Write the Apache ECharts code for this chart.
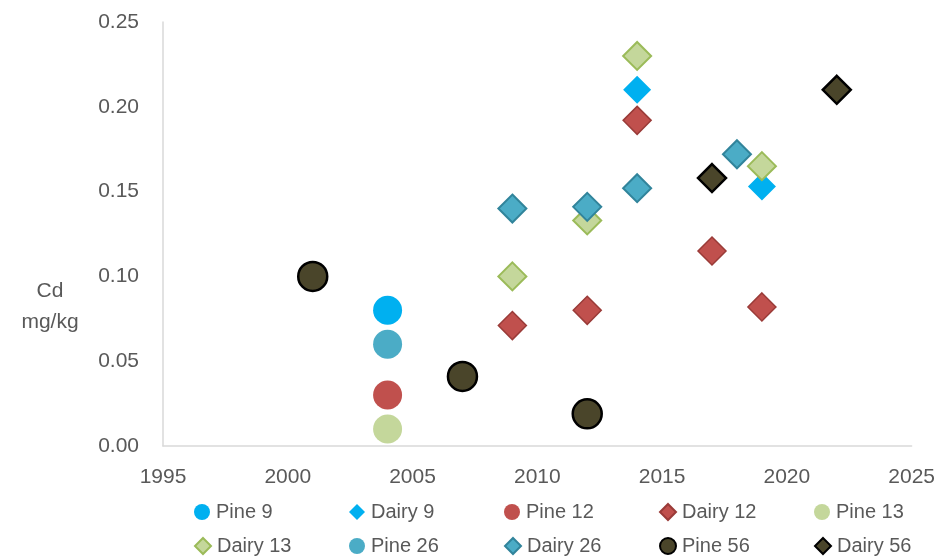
<!DOCTYPE html>
<html>
<head>
<meta charset="utf-8">
<script src="https://cdn.jsdelivr.net/npm/echarts@6/dist/echarts.min.js"></script>
<style>
  html, body { margin: 0; padding: 0; background: #fff; }
  #chart { width: 938px; height: 556px; }
</style>
</head>
<body>
<div id="chart"></div>
<script>
// Cadmium (mg/kg) by sampling year for each site
const seriesNames = ['Pine 9', 'Dairy 9', 'Pine 12', 'Dairy 12', 'Pine 13',
                     'Dairy 13', 'Pine 26', 'Dairy 26', 'Pine 56', 'Dairy 56'];

const pine9Years   = [2004];
const pine9Cd      = [0.080];
const dairy9Years  = [2014, 2019];
const dairy9Cd     = [0.210, 0.153];
const pine12Years  = [2004];
const pine12Cd     = [0.030];
const dairy12Years = [2009, 2012, 2014, 2017, 2019];
const dairy12Cd    = [0.071, 0.080, 0.192, 0.115, 0.082];
const pine13Years  = [2004];
const pine13Cd     = [0.010];
const dairy13Years = [2009, 2012, 2014, 2019];
const dairy13Cd    = [0.100, 0.133, 0.230, 0.165];
const pine26Years  = [2004];
const pine26Cd     = [0.060];
const dairy26Years = [2009, 2012, 2014, 2018];
const dairy26Cd    = [0.140, 0.141, 0.152, 0.172];
const pine56Years  = [2001, 2007, 2012];
const pine56Cd     = [0.100, 0.041, 0.019];
const dairy56Years = [2017, 2022];
const dairy56Cd    = [0.158, 0.210];

const xTicks = [1995, 2000, 2005, 2010, 2015, 2020, 2025];
const yTicks = [0.00, 0.05, 0.10, 0.15, 0.20, 0.25];

const pairs = (xs, ys) => xs.map((x, i) => [x, ys[i]]);

// marker styling per series: [symbol, fill, border, borderWidth]
const styles = {
  'Pine 9':   ['circle',  '#00B0F0', '#00B0F0', 0],
  'Dairy 9':  ['diamond', '#00B0F0', '#00B0F0', 0],
  'Pine 12':  ['circle',  '#C0504D', '#C0504D', 0],
  'Dairy 12': ['diamond', '#C0504D', '#9A3B38', 1.5],
  'Pine 13':  ['circle',  '#C4D79B', '#C4D79B', 0],
  'Dairy 13': ['diamond', '#C4D79B', '#9BBB59', 2],
  'Pine 26':  ['circle',  '#4BACC6', '#4BACC6', 0],
  'Dairy 26': ['diamond', '#4BACC6', '#31849B', 2],
  'Pine 56':  ['circle',  '#4A452A', '#000000', 2.5],
  'Dairy 56': ['diamond', '#4A452A', '#000000', 2.5]
};

const dataByName = {
  'Pine 9':   pairs(pine9Years, pine9Cd),
  'Dairy 9':  pairs(dairy9Years, dairy9Cd),
  'Pine 12':  pairs(pine12Years, pine12Cd),
  'Dairy 12': pairs(dairy12Years, dairy12Cd),
  'Pine 13':  pairs(pine13Years, pine13Cd),
  'Dairy 13': pairs(dairy13Years, dairy13Cd),
  'Pine 26':  pairs(pine26Years, pine26Cd),
  'Dairy 26': pairs(dairy26Years, dairy26Cd),
  'Pine 56':  pairs(pine56Years, pine56Cd),
  'Dairy 56': pairs(dairy56Years, dairy56Cd)
};

const FONT = 'Liberation Sans';
const TEXT = '#595959';

const series = seriesNames.map(name => {
  const [symbol, fill, border, bw] = styles[name];
  return {
    name,
    type: 'scatter',
    symbol,
    symbolSize: symbol === 'circle' ? 29 : 28,
    itemStyle: { color: fill, borderColor: border, borderWidth: bw, opacity: 1 },
    data: dataByName[name]
  };
});

// one legend entry per slot, laid out in two rows of five
const legends = seriesNames.map((name, i) => ({
  data: [name],
  left: 189 + (i % 5) * 155,
  top: i < 5 ? 497 : 531,
  itemWidth: 16,
  itemHeight: 16,
  itemGap: 6,
  textStyle: { color: TEXT, fontFamily: FONT, fontSize: 20, padding: [0, 0, 0, 1] },
  selectedMode: false
}));

const chart = echarts.init(document.getElementById('chart'), null, { renderer: 'canvas' });
chart.setOption({
  animation: false,
  backgroundColor: '#ffffff',
  grid: { left: 163, right: 25, top: 22, bottom: 110, containLabel: false },
  xAxis: {
    type: 'value',
    min: xTicks[0],
    max: xTicks[xTicks.length - 1],
    interval: 5,
    axisLine: { show: true, lineStyle: { color: '#D9D9D9', width: 1.5 } },
    axisTick: { show: false },
    splitLine: { show: false },
    axisLabel: {
      color: TEXT, fontFamily: FONT, fontSize: 21, margin: 21,
      formatter: v => String(v)
    }
  },
  yAxis: {
    type: 'value',
    min: yTicks[0],
    max: yTicks[yTicks.length - 1],
    interval: 0.05,
    axisLine: { show: true, lineStyle: { color: '#D9D9D9', width: 1.5 } },
    axisTick: { show: false },
    splitLine: { show: false },
    axisLabel: {
      color: TEXT, fontFamily: FONT, fontSize: 21, margin: 24,
      formatter: v => v.toFixed(2)
    }
  },
  legend: legends,
  graphic: [{
    type: 'text',
    x: 50,
    y: 276,
    style: {
      text: 'Cd\nmg/kg',
      fill: TEXT,
      font: '21px "Liberation Sans"',
      textAlign: 'center',
      lineHeight: 31
    }
  }],
  series
});
</script>
</body>
</html>
